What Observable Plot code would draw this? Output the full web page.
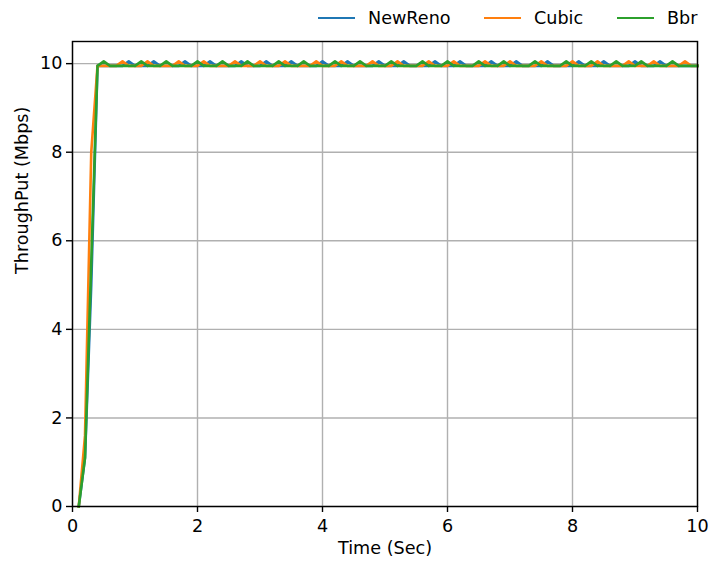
<!DOCTYPE html>
<html>
<head>
<meta charset="utf-8">
<script src="https://cdn.jsdelivr.net/npm/d3@7"></script>
<script src="https://cdn.jsdelivr.net/npm/@observablehq/plot@0.6"></script>
<style>
  html, body { margin: 0; padding: 0; background: #fff; }
  #wrap { position: relative; width: 709px; height: 563px; font-family: "DejaVu Sans", sans-serif; }
  #legend { position: absolute; top: 0; left: 0; width: 709px; height: 35px; font-size: 17.6px; color: #000; }
  .item { position: absolute; top: 7px; display: flex; align-items: center; height: 22px; }
  .swatch { display: inline-block; width: 37px; height: 2.6px; margin-right: 13px; }
</style>
</head>
<body>
<div id="wrap">
  <div id="chart"></div>
  <div id="legend"></div>
</div>
<script>
const times = [
  0.1,0.2,0.3,0.4,0.5,0.6,0.7,0.8,0.9,1.0,
  1.1,1.2,1.3,1.4,1.5,1.6,1.7,1.8,1.9,2.0,
  2.1,2.2,2.3,2.4,2.5,2.6,2.7,2.8,2.9,3.0,
  3.1,3.2,3.3,3.4,3.5,3.6,3.7,3.8,3.9,4.0,
  4.1,4.2,4.3,4.4,4.5,4.6,4.7,4.8,4.9,5.0,
  5.1,5.2,5.3,5.4,5.5,5.6,5.7,5.8,5.9,6.0,
  6.1,6.2,6.3,6.4,6.5,6.6,6.7,6.8,6.9,7.0,
  7.1,7.2,7.3,7.4,7.5,7.6,7.7,7.8,7.9,8.0,
  8.1,8.2,8.3,8.4,8.5,8.6,8.7,8.8,8.9,9.0,
  9.1,9.2,9.3,9.4,9.5,9.6,9.7,9.8,9.9,10.0
];

const newReno = [
  0,1.1,5.0,9.95,9.95,9.95,9.95,9.95,10.05,9.95,
  9.95,9.95,10.05,9.95,9.95,9.95,9.95,10.05,9.95,9.95,
  9.95,10.05,9.95,9.95,9.95,9.95,10.05,9.95,9.95,9.95,
  10.05,9.95,9.95,9.95,10.05,9.95,9.95,9.95,9.95,10.05,
  9.95,9.95,9.95,10.05,9.95,9.95,9.95,9.95,10.05,9.95,
  9.95,9.95,10.05,9.95,9.95,9.95,9.95,10.05,9.95,9.95,
  9.95,10.05,9.95,9.95,9.95,9.95,10.05,9.95,9.95,9.95,
  10.05,9.95,9.95,9.95,9.95,10.05,9.95,9.95,9.95,9.95,
  10.05,9.95,9.95,9.95,10.05,9.95,9.95,9.95,9.95,10.05,
  9.95,9.95,9.95,10.05,9.95,9.95,9.95,9.95,9.95,9.95
];

const cubic = [
  0,1.6,8.0,9.95,9.95,9.95,9.95,10.05,9.95,9.95,
  9.95,10.05,9.95,9.95,9.95,9.95,10.05,9.95,9.95,9.95,
  10.05,9.95,9.95,9.95,9.95,10.05,9.95,9.95,9.95,10.05,
  9.95,9.95,9.95,10.05,9.95,9.95,9.95,9.95,10.05,9.95,
  9.95,9.95,10.05,9.95,9.95,9.95,9.95,10.05,9.95,9.95,
  9.95,10.05,9.95,9.95,9.95,9.95,10.05,9.95,9.95,9.95,
  10.05,9.95,9.95,9.95,9.95,10.05,9.95,9.95,9.95,10.05,
  9.95,9.95,9.95,9.95,10.05,9.95,9.95,9.95,9.95,10.05,
  9.95,9.95,9.95,10.05,9.95,9.95,9.95,9.95,10.05,9.95,
  9.95,9.95,10.05,9.95,9.95,9.95,9.95,10.05,9.95,9.95
];

const bbr = [
  0,1.1,5.5,9.95,10.05,9.95,9.95,9.95,9.95,9.95,
  10.05,9.95,9.95,9.95,10.05,9.95,9.95,9.95,9.95,10.05,
  9.95,9.95,9.95,10.05,9.95,9.95,9.95,10.05,9.95,9.95,
  9.95,9.95,10.05,9.95,9.95,9.95,10.05,9.95,9.95,9.95,
  9.95,10.05,9.95,9.95,9.95,10.05,9.95,9.95,9.95,9.95,
  10.05,9.95,9.95,9.95,9.95,10.05,9.95,9.95,9.95,10.05,
  9.95,9.95,9.95,9.95,10.05,9.95,9.95,9.95,10.05,9.95,
  9.95,9.95,9.95,10.05,9.95,9.95,9.95,9.95,10.05,9.95,
  9.95,9.95,10.05,9.95,9.95,9.95,10.05,9.95,9.95,9.95,
  10.05,9.95,9.95,9.95,9.95,10.05,9.95,9.95,9.95,9.95
];

const seriesNames = ["NewReno", "Cubic", "Bbr"];
const seriesColors = ["#1f77b4", "#ff7f0e", "#2ca02c"];
const seriesValues = [newReno, cubic, bbr];
const xTicks = [0, 2, 4, 6, 8, 10];
const yTicks = [0, 2, 4, 6, 8, 10];
const xLabel = "Time (Sec)";
const yLabel = "ThroughPut (Mbps)";

const rows = [];
seriesNames.forEach((name, si) => {
  times.forEach((t, i) => rows.push({series: name, time: t, value: seriesValues[si][i]}));
});

const chart = Plot.plot({
  width: 709,
  height: 563,
  marginTop: 41,
  marginBottom: 57,
  marginLeft: 72,
  marginRight: 12,
  style: {fontSize: "17.6px", fontFamily: "DejaVu Sans, sans-serif", color: "#000", background: "#fff"},
  x: {domain: [0, 10]},
  y: {domain: [0, 10.5]},
  color: {domain: seriesNames, range: seriesColors},
  marks: [
    Plot.gridX(xTicks, {stroke: "#b0b0b0", strokeOpacity: 1, strokeWidth: 1.4}),
    Plot.gridY(yTicks, {stroke: "#b0b0b0", strokeOpacity: 1, strokeWidth: 1.4}),
    Plot.line(rows, {x: "time", y: "value", z: "series", stroke: "series", strokeWidth: 2.6, strokeLinejoin: "round", strokeLinecap: "square"}),
    Plot.frame({stroke: "#000", strokeWidth: 1.4}),
    Plot.axisX(xTicks, {tickSize: 6, tickPadding: 7, label: null, stroke: "#000", strokeWidth: 1.4, fill: "#000"}),
    Plot.axisY(yTicks, {tickSize: 6, tickPadding: 4, label: null, stroke: "#000", strokeWidth: 1.4, fill: "#000"}),
    Plot.text([xLabel], {frameAnchor: "bottom", dy: 47, fill: "#000"}),
    Plot.text([yLabel], {frameAnchor: "left", dx: -50, rotate: -90, fill: "#000"})
  ]
});
document.getElementById("chart").appendChild(chart);

const legend = document.getElementById("legend");
const legendX = [318, 484, 617];
seriesNames.forEach((name, i) => {
  const item = document.createElement("div");
  item.className = "item";
  item.style.left = legendX[i] + "px";
  const sw = document.createElement("span");
  sw.className = "swatch";
  sw.style.background = seriesColors[i];
  const tx = document.createElement("span");
  tx.textContent = name;
  item.appendChild(sw);
  item.appendChild(tx);
  legend.appendChild(item);
});
</script>
</body>
</html>
